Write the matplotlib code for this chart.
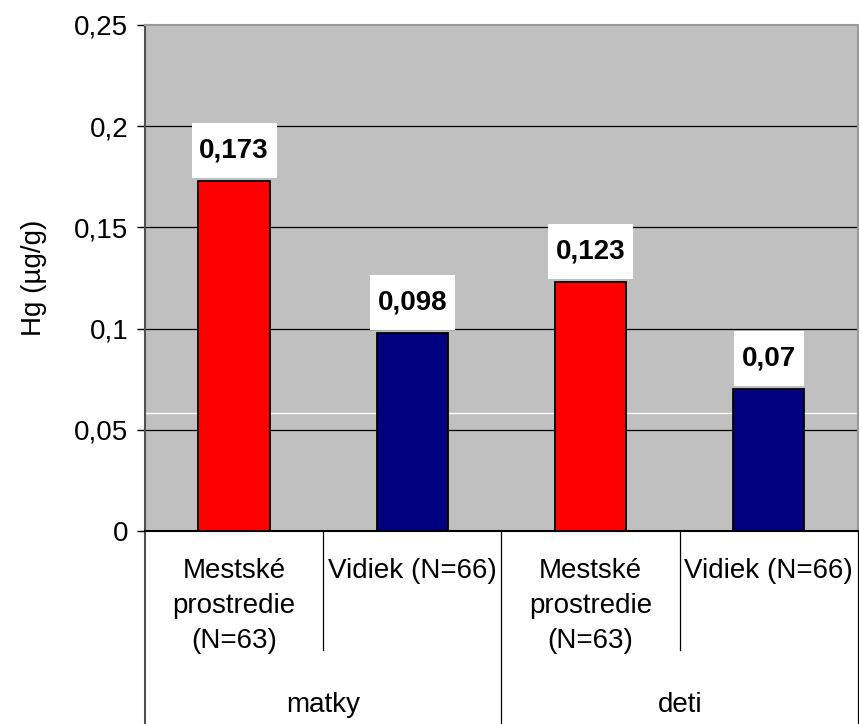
import matplotlib.pyplot as plt
import matplotlib.transforms as mtransforms
from matplotlib.path import Path

plt.rcParams['font.family'] = ['Liberation Sans', 'DejaVu Sans']

# hodnoty Hg v krvi
skupiny = ['matky', 'deti']
prostredie = ['Mestské\nprostredie\n(N=63)', 'Vidiek (N=66)',
              'Mestské\nprostredie\n(N=63)', 'Vidiek (N=66)']
hg = [0.173, 0.098, 0.123, 0.07]
farby = ['#FF0000', '#000080', '#FF0000', '#000080']
yticks = [0, 0.05, 0.1, 0.15, 0.2, 0.25]
ytick_labels = ['0', '0,05', '0,1', '0,15', '0,2', '0,25']
biela_ciara = 0.0584

FS = 20


def stitok(x0, y0, width, height, mutation_size):
    # biely obdlznik, vyssi ako sirsi okraj
    px = 0.28 * mutation_size
    py = 0.52 * mutation_size
    x0, y0 = x0 - px, y0 - py
    x1, y1 = x0 + width + 2 * px, y0 + height + 2 * py
    return Path([(x0, y0), (x1, y0), (x1, y1), (x0, y1), (x0, y0)],
                closed=True)


fig = plt.figure(figsize=(8.59, 7.24), dpi=100)
ax = fig.add_axes([0.1688, 0.2666, 0.83, 0.6989])
ax.set_facecolor('#C0C0C0')

x = list(range(len(hg)))
ax.bar(x, hg, width=0.4, color=farby, edgecolor='black', linewidth=1.3, zorder=3)

ax.set_xlim(-0.5, len(hg) - 0.5)
ax.set_ylim(0, 0.25)
ax.set_yticks(yticks)
ax.set_yticklabels(ytick_labels, fontsize=FS)
ax.set_xticks([])
ax.tick_params(axis='y', direction='out', length=6, width=1, color='black', pad=6)
ax.set_ylabel('Hg (µg/g)', fontsize=FS)
ax.yaxis.set_label_coords(-0.137, 0.5)

# mriezka
for t in yticks[1:-1]:
    ax.axhline(t, color='black', linewidth=0.9, zorder=1)
ax.axhline(biela_ciara, color='white', linewidth=1.0, zorder=1)

for s in ['top', 'right']:
    ax.spines[s].set_color('#9A9A9A')
    ax.spines[s].set_linewidth(1.5)
ax.spines['left'].set_color('#505050')
ax.spines['left'].set_linewidth(1.5)
ax.spines['bottom'].set_color('black')
ax.spines['bottom'].set_linewidth(1.5)

# popisky hodnot
for xi, v in zip(x, hg):
    ax.annotate(f'{v:g}'.replace('.', ','), xy=(xi, v), xytext=(0, 22),
                textcoords='offset points', ha='center', va='center',
                fontsize=FS, fontweight='bold', zorder=4,
                bbox=dict(boxstyle=stitok, fc='white', ec='none'))

# dvojurovnova os x
trans = mtransforms.blended_transform_factory(ax.transData, ax.transAxes)
dole = -0.381
stred = -0.235
for xi, txt in zip(x, prostredie):
    ax.text(xi, -0.054, txt, transform=trans, ha='center', va='top',
            fontsize=FS, linespacing=1.45, clip_on=False)
for i in range(1, len(hg)):
    hranica = i - 0.5
    koniec = dole if i % 2 == 0 else stred
    ax.plot([hranica, hranica], [0, koniec], transform=trans, color='black',
            linewidth=0.9, clip_on=False)
ax.plot([-0.5, -0.5], [0, dole], transform=trans, color='#505050',
        linewidth=1.5, clip_on=False)
ax.plot([len(hg) - 0.5, len(hg) - 0.5], [0, dole], transform=trans,
        color='black', linewidth=0.9, clip_on=False)
for g, meno in enumerate(skupiny):
    ax.text(2 * g + 0.5, -0.344, meno, transform=trans, ha='center',
            va='center', fontsize=FS, clip_on=False)

fig.savefig('out.png', dpi=100)
